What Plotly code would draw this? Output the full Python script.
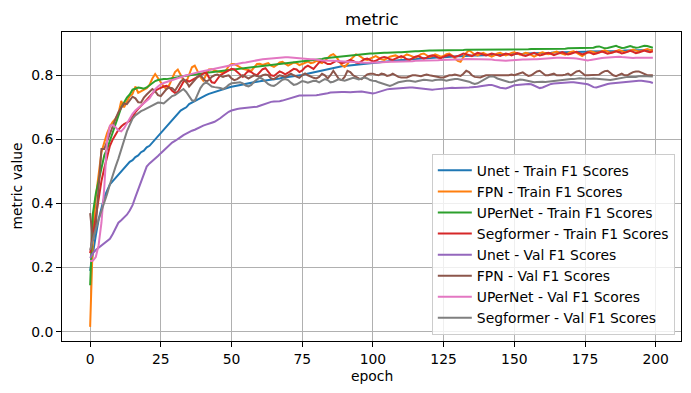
import plotly.graph_objects as go

epochs = list(range(200))

unet_train = [
    0.19, 0.25, 0.30, 0.35, 0.39, 0.42, 0.44, 0.46, 0.47, 0.48,
    0.49, 0.50, 0.51, 0.52, 0.53, 0.535, 0.545, 0.55, 0.56, 0.565,
    0.575, 0.58, 0.59, 0.60, 0.61, 0.62, 0.63, 0.64, 0.65, 0.66,
    0.67, 0.68, 0.69, 0.695, 0.70, 0.71, 0.715, 0.72, 0.725, 0.73,
    0.735, 0.738, 0.742, 0.745, 0.748, 0.752, 0.755, 0.757, 0.76, 0.762,
    0.764, 0.766, 0.768, 0.77, 0.772, 0.774, 0.776, 0.777, 0.779, 0.78,
    0.781, 0.782, 0.784, 0.785, 0.787, 0.788, 0.789, 0.79, 0.792, 0.793,
    0.794, 0.795, 0.797, 0.798, 0.80, 0.801, 0.803, 0.805, 0.807, 0.809,
    0.811, 0.813, 0.815, 0.817, 0.82, 0.822, 0.824, 0.826, 0.827, 0.828,
    0.829, 0.83, 0.832, 0.833, 0.834, 0.835, 0.836, 0.836, 0.837, 0.838,
    0.839, 0.84, 0.841, 0.842, 0.843, 0.844, 0.845, 0.846, 0.846, 0.847,
    0.848, 0.848, 0.849, 0.85, 0.85, 0.851, 0.852, 0.852, 0.853, 0.853,
    0.854, 0.854, 0.855, 0.855, 0.856, 0.856, 0.857, 0.857, 0.858, 0.858,
    0.859, 0.859, 0.86, 0.86, 0.861, 0.861, 0.862, 0.862, 0.862, 0.863,
    0.863, 0.863, 0.864, 0.864, 0.864, 0.865, 0.865, 0.865, 0.866, 0.866,
    0.866, 0.867, 0.867, 0.867, 0.868, 0.868, 0.868, 0.869, 0.869, 0.869,
    0.87, 0.87, 0.87, 0.87, 0.871, 0.871, 0.871, 0.871, 0.872, 0.872,
    0.872, 0.872, 0.873, 0.873, 0.873, 0.873, 0.874, 0.874, 0.874, 0.874,
    0.875, 0.875, 0.875, 0.875, 0.876, 0.876, 0.876, 0.876, 0.876, 0.877,
    0.877, 0.877, 0.877, 0.877, 0.878, 0.878, 0.878, 0.878, 0.878, 0.879,
]

fpn_train = [
    0.015, 0.30, 0.42, 0.50, 0.56, 0.59, 0.62, 0.64, 0.655, 0.665,
    0.68, 0.72, 0.70, 0.718, 0.735, 0.742, 0.765, 0.745, 0.75, 0.757,
    0.76, 0.77, 0.79, 0.804, 0.79, 0.775, 0.765, 0.757, 0.77, 0.79,
    0.81, 0.818, 0.80, 0.785, 0.778, 0.80, 0.825, 0.83, 0.81, 0.795,
    0.783, 0.80, 0.818, 0.819, 0.815, 0.812, 0.81, 0.808, 0.815, 0.828,
    0.835, 0.835, 0.83, 0.825, 0.82, 0.818, 0.815, 0.814, 0.825, 0.835,
    0.836, 0.832, 0.835, 0.838, 0.83, 0.826, 0.832, 0.84, 0.842, 0.835,
    0.83, 0.835, 0.84, 0.838, 0.832, 0.835, 0.84, 0.843, 0.838, 0.84,
    0.845, 0.842, 0.838, 0.845, 0.855, 0.862, 0.866, 0.858, 0.845, 0.832,
    0.826, 0.835, 0.848, 0.858, 0.865, 0.862, 0.855, 0.85, 0.848, 0.852,
    0.857, 0.86, 0.855, 0.85, 0.848, 0.853, 0.858, 0.86, 0.862, 0.858,
    0.855, 0.86, 0.865, 0.862, 0.858, 0.855, 0.86, 0.866, 0.868, 0.862,
    0.857, 0.86, 0.865, 0.862, 0.858, 0.86, 0.866, 0.868, 0.862, 0.852,
    0.845, 0.842, 0.855, 0.87, 0.878, 0.872, 0.865, 0.862, 0.866, 0.87,
    0.866, 0.862, 0.858, 0.862, 0.868, 0.87, 0.866, 0.862, 0.865, 0.87,
    0.872, 0.868, 0.864, 0.866, 0.87, 0.868, 0.862, 0.858, 0.863, 0.869,
    0.872, 0.87, 0.866, 0.868, 0.872, 0.874, 0.87, 0.866, 0.864, 0.868,
    0.873, 0.875, 0.87, 0.863, 0.86, 0.866, 0.872, 0.875, 0.873, 0.87,
    0.872, 0.876, 0.878, 0.874, 0.87, 0.872, 0.876, 0.879, 0.876, 0.872,
    0.874, 0.878, 0.88, 0.877, 0.874, 0.876, 0.879, 0.882, 0.879, 0.878,
]

upernet_train = [
    0.145, 0.37, 0.43, 0.47, 0.52, 0.55, 0.57, 0.595, 0.62, 0.645,
    0.675, 0.70, 0.715, 0.73, 0.74, 0.755, 0.758, 0.762, 0.76, 0.758,
    0.762, 0.768, 0.775, 0.782, 0.785, 0.787, 0.788, 0.788, 0.789, 0.79,
    0.792, 0.794, 0.796, 0.797, 0.798, 0.80, 0.80, 0.802, 0.804, 0.804,
    0.806, 0.807, 0.809, 0.81, 0.811, 0.812, 0.814, 0.815, 0.816, 0.818,
    0.819, 0.82, 0.821, 0.822, 0.823, 0.824, 0.825, 0.826, 0.827, 0.828,
    0.829, 0.83, 0.831, 0.832, 0.833, 0.834, 0.835, 0.836, 0.837, 0.838,
    0.839, 0.84, 0.84, 0.841, 0.842, 0.843, 0.844, 0.845, 0.846, 0.847,
    0.848, 0.85, 0.851, 0.853, 0.854, 0.855, 0.857, 0.858, 0.859, 0.86,
    0.861, 0.862, 0.863, 0.864, 0.865, 0.866, 0.866, 0.867, 0.867, 0.868,
    0.868, 0.869, 0.869, 0.87, 0.87, 0.87, 0.871, 0.871, 0.871, 0.872,
    0.872, 0.873, 0.873, 0.874, 0.874, 0.875, 0.875, 0.876, 0.876, 0.876,
    0.877, 0.877, 0.877, 0.878, 0.878, 0.878, 0.878, 0.879, 0.879, 0.879,
    0.879, 0.879, 0.879, 0.88, 0.88, 0.879, 0.879, 0.88, 0.88, 0.88,
    0.88, 0.879, 0.879, 0.88, 0.88, 0.879, 0.879, 0.88, 0.88, 0.88,
    0.88, 0.881, 0.881, 0.88, 0.881, 0.881, 0.882, 0.882, 0.881, 0.881,
    0.882, 0.882, 0.882, 0.883, 0.883, 0.882, 0.882, 0.883, 0.883, 0.884,
    0.884, 0.884, 0.884, 0.884, 0.885, 0.885, 0.884, 0.884, 0.886, 0.889,
    0.89, 0.887, 0.884, 0.885, 0.888, 0.891, 0.892, 0.888, 0.885, 0.886,
    0.889, 0.891, 0.888, 0.886, 0.887, 0.89, 0.892, 0.891, 0.888, 0.886,
]

segformer_train = [
    0.245, 0.30, 0.37, 0.42, 0.47, 0.51, 0.55, 0.58, 0.60, 0.615,
    0.63, 0.64, 0.648, 0.652, 0.658, 0.67, 0.685, 0.695, 0.705, 0.715,
    0.725, 0.735, 0.745, 0.752, 0.757, 0.762, 0.765, 0.767, 0.762, 0.752,
    0.745, 0.748, 0.765, 0.78, 0.785, 0.78, 0.785, 0.79, 0.797, 0.80,
    0.805, 0.809, 0.795, 0.778, 0.776, 0.79, 0.80, 0.805, 0.81, 0.815,
    0.82, 0.818, 0.81, 0.80, 0.795, 0.805, 0.814, 0.81, 0.803, 0.80,
    0.81, 0.819, 0.822, 0.81, 0.80, 0.798, 0.805, 0.812, 0.808, 0.803,
    0.808, 0.815, 0.82, 0.818, 0.81, 0.815, 0.825, 0.83, 0.825, 0.82,
    0.83, 0.84, 0.845, 0.84, 0.835, 0.835, 0.84, 0.845, 0.842, 0.838,
    0.84, 0.845, 0.848, 0.845, 0.84, 0.838, 0.843, 0.85, 0.852, 0.848,
    0.843, 0.845, 0.85, 0.855, 0.857, 0.855, 0.85, 0.848, 0.852, 0.857,
    0.86, 0.856, 0.85, 0.848, 0.853, 0.858, 0.86, 0.855, 0.852, 0.855,
    0.86, 0.862, 0.86, 0.855, 0.853, 0.858, 0.862, 0.864, 0.86, 0.857,
    0.86, 0.865, 0.868, 0.866, 0.862, 0.86, 0.865, 0.87, 0.868, 0.864,
    0.862, 0.865, 0.868, 0.866, 0.862, 0.86, 0.864, 0.868, 0.866, 0.862,
    0.865, 0.869, 0.867, 0.862, 0.86, 0.864, 0.868, 0.87, 0.866, 0.862,
    0.864, 0.868, 0.87, 0.867, 0.863, 0.866, 0.87, 0.872, 0.868, 0.865,
    0.867, 0.871, 0.873, 0.869, 0.865, 0.868, 0.872, 0.87, 0.866, 0.868,
    0.872, 0.874, 0.871, 0.867, 0.869, 0.873, 0.875, 0.872, 0.868, 0.87,
    0.874, 0.876, 0.873, 0.869, 0.871, 0.875, 0.877, 0.874, 0.872, 0.875,
]

unet_val = [
    0.23, 0.245, 0.255, 0.262, 0.268, 0.275, 0.283, 0.29, 0.305, 0.325,
    0.34, 0.348, 0.355, 0.365, 0.378, 0.395, 0.42, 0.445, 0.47, 0.495,
    0.515, 0.525, 0.532, 0.54, 0.548, 0.557, 0.565, 0.575, 0.583, 0.59,
    0.595, 0.60, 0.607, 0.613, 0.618, 0.622, 0.627, 0.63, 0.635, 0.64,
    0.643, 0.646, 0.65, 0.652, 0.655, 0.66, 0.666, 0.673, 0.68, 0.686,
    0.69, 0.693, 0.695, 0.696, 0.697, 0.698, 0.699, 0.70, 0.70, 0.702,
    0.705, 0.708, 0.712, 0.715, 0.717, 0.718, 0.718, 0.719, 0.721, 0.724,
    0.727, 0.73, 0.733, 0.735, 0.737, 0.737, 0.737, 0.736, 0.736, 0.737,
    0.738, 0.739, 0.74, 0.742, 0.744, 0.746, 0.747, 0.748, 0.748, 0.748,
    0.748, 0.747, 0.747, 0.748, 0.749, 0.75, 0.749, 0.748, 0.746, 0.744,
    0.743, 0.745, 0.748, 0.751, 0.754, 0.756, 0.757, 0.758, 0.759, 0.76,
    0.76, 0.761, 0.761, 0.762, 0.762, 0.761, 0.76, 0.758, 0.757, 0.756,
    0.755, 0.755, 0.756, 0.757, 0.759, 0.76, 0.761, 0.761, 0.761, 0.76,
    0.76, 0.76, 0.761, 0.761, 0.762, 0.763, 0.763, 0.764, 0.766, 0.768,
    0.769, 0.77, 0.77, 0.768, 0.764, 0.761, 0.759, 0.759, 0.762, 0.766,
    0.769, 0.77, 0.771, 0.772, 0.772, 0.773, 0.772, 0.768, 0.763, 0.76,
    0.762, 0.766, 0.77, 0.773, 0.774, 0.775, 0.776, 0.777, 0.777, 0.778,
    0.778, 0.778, 0.777, 0.776, 0.775, 0.774, 0.772, 0.768, 0.763, 0.762,
    0.765, 0.769, 0.772, 0.773, 0.774, 0.775, 0.777, 0.778, 0.779, 0.78,
    0.781, 0.781, 0.782, 0.782, 0.783, 0.783, 0.782, 0.781, 0.779, 0.776,
]

fpn_val = [
    0.37, 0.285, 0.33, 0.45, 0.57, 0.57, 0.595, 0.62, 0.645, 0.665,
    0.685, 0.70, 0.712, 0.71, 0.72, 0.733, 0.728, 0.716, 0.715, 0.73,
    0.74, 0.75, 0.757, 0.75, 0.738, 0.735, 0.745, 0.757, 0.762, 0.76,
    0.752, 0.765, 0.78, 0.788, 0.78, 0.765, 0.775, 0.788, 0.795, 0.80,
    0.79, 0.78, 0.785, 0.795, 0.80, 0.802, 0.798, 0.795, 0.798, 0.80,
    0.79, 0.785, 0.788, 0.795, 0.80, 0.795, 0.79, 0.795, 0.80, 0.798,
    0.795, 0.80, 0.802, 0.80, 0.79, 0.788, 0.795, 0.80, 0.798, 0.795,
    0.80, 0.805, 0.80, 0.795, 0.792, 0.80, 0.806, 0.80, 0.795, 0.792,
    0.79, 0.795, 0.805, 0.80, 0.79, 0.80, 0.814, 0.80, 0.788, 0.785,
    0.795, 0.814, 0.81, 0.80, 0.795, 0.79, 0.788, 0.795, 0.803, 0.805,
    0.805, 0.802, 0.80, 0.805, 0.803, 0.798, 0.80, 0.805, 0.80, 0.795,
    0.793, 0.792, 0.793, 0.797, 0.80, 0.80, 0.798, 0.797, 0.80, 0.802,
    0.80, 0.798, 0.797, 0.795, 0.793, 0.793, 0.797, 0.80, 0.80, 0.802,
    0.80, 0.798, 0.805, 0.814, 0.81, 0.80, 0.795, 0.795, 0.793, 0.797,
    0.80, 0.80, 0.80, 0.798, 0.80, 0.80, 0.80, 0.80, 0.80, 0.802,
    0.80, 0.803, 0.807, 0.809, 0.803, 0.798, 0.80, 0.805, 0.812, 0.814,
    0.808, 0.80, 0.80, 0.803, 0.805, 0.80, 0.799, 0.80, 0.802, 0.805,
    0.80, 0.805, 0.812, 0.814, 0.808, 0.80, 0.80, 0.80, 0.802, 0.80,
    0.802, 0.808, 0.813, 0.814, 0.808, 0.80, 0.797, 0.80, 0.805, 0.80,
    0.80, 0.805, 0.81, 0.812, 0.812, 0.808, 0.805, 0.80, 0.80, 0.80,
]

upernet_val = [
    0.22, 0.222, 0.233, 0.27, 0.34, 0.45, 0.60, 0.643, 0.645, 0.638,
    0.628, 0.625, 0.635, 0.65, 0.665, 0.68, 0.69, 0.698, 0.705, 0.712,
    0.72, 0.728, 0.742, 0.757, 0.765, 0.772, 0.776, 0.779, 0.783, 0.787,
    0.789, 0.791, 0.794, 0.797, 0.80, 0.802, 0.805, 0.807, 0.809, 0.811,
    0.813, 0.815, 0.817, 0.819, 0.82, 0.822, 0.824, 0.826, 0.828, 0.83,
    0.832, 0.834, 0.835, 0.837, 0.839, 0.84, 0.842, 0.843, 0.845, 0.847,
    0.848, 0.85, 0.851, 0.852, 0.853, 0.854, 0.855, 0.856, 0.856, 0.856,
    0.856, 0.855, 0.855, 0.854, 0.853, 0.852, 0.851, 0.85, 0.85, 0.85,
    0.85, 0.848, 0.846, 0.845, 0.845, 0.845, 0.845, 0.844, 0.843, 0.843,
    0.842, 0.842, 0.842, 0.841, 0.84, 0.84, 0.84, 0.839, 0.839, 0.84,
    0.84, 0.84, 0.84, 0.841, 0.841, 0.841, 0.842, 0.842, 0.842, 0.842,
    0.843, 0.843, 0.843, 0.844, 0.844, 0.845, 0.845, 0.845, 0.845, 0.846,
    0.846, 0.847, 0.847, 0.847, 0.848, 0.848, 0.848, 0.848, 0.849, 0.849,
    0.849, 0.849, 0.85, 0.851, 0.851, 0.85, 0.85, 0.849, 0.849, 0.85,
    0.85, 0.85, 0.849, 0.848, 0.847, 0.846, 0.845, 0.845, 0.846, 0.847,
    0.848, 0.849, 0.849, 0.849, 0.849, 0.85, 0.85, 0.85, 0.85, 0.851,
    0.852, 0.853, 0.854, 0.855, 0.855, 0.855, 0.855, 0.855, 0.855, 0.854,
    0.854, 0.853, 0.852, 0.851, 0.849, 0.847, 0.846, 0.848, 0.85, 0.852,
    0.853, 0.854, 0.855, 0.856, 0.857, 0.858, 0.858, 0.858, 0.857, 0.856,
    0.855, 0.854, 0.854, 0.855, 0.855, 0.856, 0.856, 0.856, 0.855, 0.855,
]

segformer_val = [
    0.255, 0.29, 0.32, 0.35, 0.375, 0.40, 0.43, 0.46, 0.49, 0.515,
    0.54, 0.57, 0.60, 0.625, 0.645, 0.665, 0.675, 0.682, 0.688, 0.692,
    0.697, 0.702, 0.706, 0.71, 0.715, 0.714, 0.712, 0.72, 0.728, 0.735,
    0.738, 0.745, 0.752, 0.757, 0.748, 0.735, 0.722, 0.72, 0.74, 0.76,
    0.772, 0.778, 0.772, 0.765, 0.763, 0.762, 0.76, 0.757, 0.762, 0.77,
    0.775, 0.776, 0.777, 0.778, 0.775, 0.768, 0.765, 0.77, 0.78, 0.788,
    0.793, 0.788, 0.78, 0.772, 0.768, 0.767, 0.772, 0.78, 0.786, 0.788,
    0.785, 0.777, 0.77, 0.772, 0.778, 0.782, 0.78, 0.777, 0.78, 0.783,
    0.782, 0.778, 0.783, 0.788, 0.785, 0.778, 0.78, 0.785, 0.788, 0.785,
    0.783, 0.786, 0.79, 0.792, 0.79, 0.787, 0.79, 0.793, 0.79, 0.785,
    0.783, 0.782, 0.778, 0.775, 0.772, 0.77, 0.767, 0.77, 0.775, 0.778,
    0.78, 0.782, 0.783, 0.783, 0.782, 0.78, 0.782, 0.785, 0.786, 0.785,
    0.783, 0.783, 0.785, 0.786, 0.787, 0.785, 0.783, 0.785, 0.787, 0.788,
    0.788, 0.786, 0.785, 0.783, 0.78, 0.776, 0.773, 0.775, 0.78, 0.785,
    0.79, 0.795, 0.797, 0.795, 0.79, 0.787, 0.785, 0.782, 0.779, 0.778,
    0.781, 0.785, 0.787, 0.786, 0.784, 0.781, 0.779, 0.778, 0.779, 0.78,
    0.78, 0.779, 0.78, 0.781, 0.783, 0.785, 0.786, 0.787, 0.788, 0.789,
    0.788, 0.788, 0.79, 0.791, 0.79, 0.789, 0.788, 0.789, 0.79, 0.789,
    0.787, 0.786, 0.785, 0.784, 0.785, 0.787, 0.789, 0.79, 0.792, 0.794,
    0.795, 0.795, 0.794, 0.795, 0.797, 0.798, 0.798, 0.797, 0.797, 0.796,
]

series_names = [
    "Unet - Train F1 Scores", "FPN - Train F1 Scores",
    "UPerNet - Train F1 Scores", "Segformer - Train F1 Scores",
    "Unet - Val F1 Scores", "FPN - Val F1 Scores",
    "UPerNet - Val F1 Scores", "Segformer - Val F1 Scores",
]
series_values = [unet_train, fpn_train, upernet_train, segformer_train,
                 unet_val, fpn_val, upernet_val, segformer_val]
colors = ["#1f77b4", "#ff7f0e", "#2ca02c", "#d62728",
          "#9467bd", "#8c564b", "#e377c2", "#7f7f7f"]

x_ticks = [0, 25, 50, 75, 100, 125, 150, 175, 200]
y_ticks = [0.0, 0.2, 0.4, 0.6, 0.8]

FONT = "DejaVu Sans"
FS = 13.9

fig = go.Figure()
for name, vals, col in zip(series_names, series_values, colors):
    fig.add_trace(go.Scatter(
        x=epochs[:len(vals)], y=vals, mode="lines", name=name,
        line=dict(color=col, width=2),
    ))

axis_common = dict(
    showgrid=True, gridcolor="#b0b0b0", gridwidth=1,
    showline=True, linecolor="black", linewidth=1, mirror=True,
    ticks="outside", ticklen=5, tickcolor="black", tickwidth=1,
    zeroline=False, automargin=False,
    tickfont=dict(family=FONT, size=FS, color="black"),
)

# The page body has an 8px default margin; the figure is sized so that the
# plot area lands at x 62..681, y 32..341 of the 691x393 window.
OFF = 8
W, H = 691 - OFF, 393 - OFF
L, T = 62 - OFF, 32 - OFF
PW, PH = 619, 309
R = W - L - PW
B = H - T - PH

fig.update_layout(
    template="none",
    width=W, height=H,
    margin=dict(l=L, r=R, t=T, b=B, pad=0),
    paper_bgcolor="white", plot_bgcolor="white",
    font=dict(family=FONT, size=FS, color="black"),
    xaxis=dict(range=[-9.95, 208.95], tickvals=x_ticks, **axis_common),
    yaxis=dict(range=[-0.029, 0.935], tickvals=y_ticks, tickformat=".1f",
               **axis_common),
    showlegend=True,
    legend=dict(
        x=0.99, y=0.02, xanchor="right", yanchor="bottom",
        bgcolor="rgba(255,255,255,0.8)", bordercolor="#cccccc", borderwidth=1,
        font=dict(family=FONT, size=FS, color="black"),
        tracegroupgap=0, itemwidth=34,
    ),
    annotations=[
        dict(text="metric", xref="paper", yref="paper", x=0.5,
             y=1 + T / PH, yanchor="top", showarrow=False, borderpad=0,
             font=dict(family=FONT, size=16.7, color="black")),
        dict(text="epoch", xref="paper", yref="paper", x=0.5,
             y=-(376 - 341) / PH, yanchor="middle", showarrow=False,
             font=dict(family=FONT, size=FS, color="black")),
        dict(text="metric value", xref="paper", yref="paper",
             x=-(62 - 16) / PW, y=0.5, xanchor="center",
             yanchor="middle", textangle=-90, showarrow=False,
             font=dict(family=FONT, size=FS, color="black")),
    ],
)

fig.write_html("out.html")
